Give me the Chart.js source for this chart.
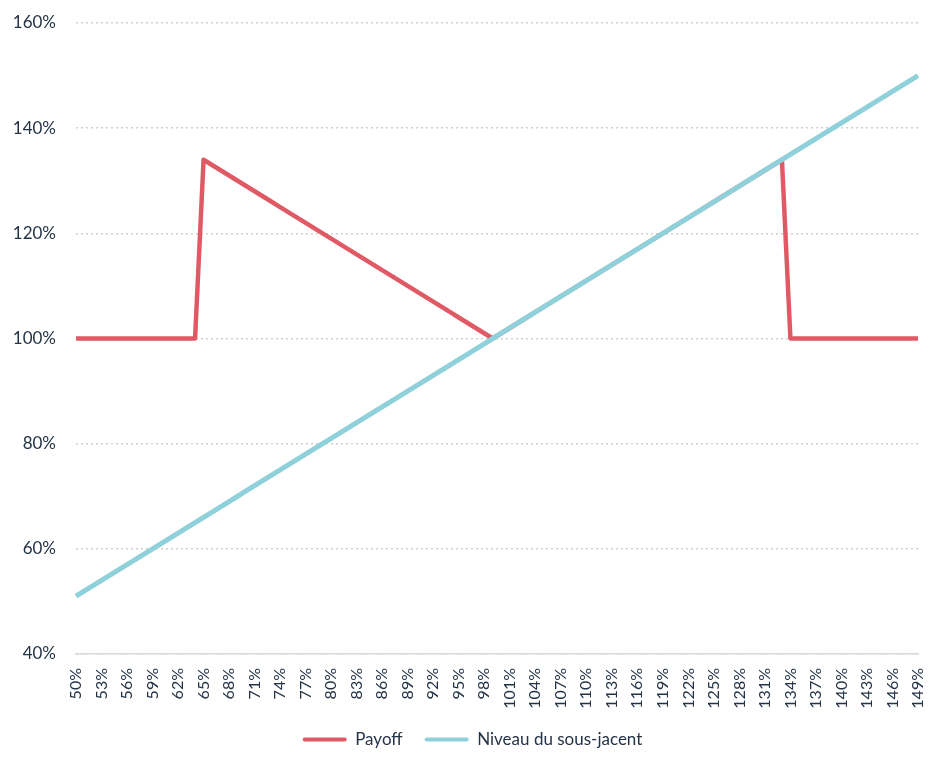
<!DOCTYPE html>
<html>
<head>
<meta charset="utf-8">
<script src="https://cdn.jsdelivr.net/npm/chart.js@4.4.1/dist/chart.umd.min.js"></script>
<style>
  html, body { margin: 0; padding: 0; background: #fff; }
  #wrap { width: 945px; height: 769px; }
</style>
</head>
<body>
<div id="wrap"><canvas id="payoffChart" width="945" height="769"></canvas></div>
<script>
// niveau du sous-jacent a maturite (axe x)
const niveaux = [
  '50%','51%','52%','53%','54%','55%','56%','57%','58%','59%',
  '60%','61%','62%','63%','64%','65%','66%','67%','68%','69%',
  '70%','71%','72%','73%','74%','75%','76%','77%','78%','79%',
  '80%','81%','82%','83%','84%','85%','86%','87%','88%','89%',
  '90%','91%','92%','93%','94%','95%','96%','97%','98%','99%',
  '100%','101%','102%','103%','104%','105%','106%','107%','108%','109%',
  '110%','111%','112%','113%','114%','115%','116%','117%','118%','119%',
  '120%','121%','122%','123%','124%','125%','126%','127%','128%','129%',
  '130%','131%','132%','133%','134%','135%','136%','137%','138%','139%',
  '140%','141%','142%','143%','144%','145%','146%','147%','148%','149%'
];

const payoff = [
  100, 100, 100, 100, 100, 100, 100, 100, 100, 100,
  100, 100, 100, 100, 100, 134, 133, 132, 131, 130,
  129, 128, 127, 126, 125, 124, 123, 122, 121, 120,
  119, 118, 117, 116, 115, 114, 113, 112, 111, 110,
  109, 108, 107, 106, 105, 104, 103, 102, 101, 100,
  101, 102, 103, 104, 105, 106, 107, 108, 109, 110,
  111, 112, 113, 114, 115, 116, 117, 118, 119, 120,
  121, 122, 123, 124, 125, 126, 127, 128, 129, 130,
  131, 132, 133, 134, 100, 100, 100, 100, 100, 100,
  100, 100, 100, 100, 100, 100, 100, 100, 100, 100
];

const sousJacent = [
   51,  52,  53,  54,  55,  56,  57,  58,  59,  60,
   61,  62,  63,  64,  65,  66,  67,  68,  69,  70,
   71,  72,  73,  74,  75,  76,  77,  78,  79,  80,
   81,  82,  83,  84,  85,  86,  87,  88,  89,  90,
   91,  92,  93,  94,  95,  96,  97,  98,  99, 100,
  101, 102, 103, 104, 105, 106, 107, 108, 109, 110,
  111, 112, 113, 114, 115, 116, 117, 118, 119, 120,
  121, 122, 123, 124, 125, 126, 127, 128, 129, 130,
  131, 132, 133, 134, 135, 136, 137, 138, 139, 140,
  141, 142, 143, 144, 145, 146, 147, 148, 149, 150
];

const textColor = '#243447';
const red = '#E05A66';
const blue = '#8FD1DA';

Chart.defaults.font.family = 'Lato, "Open Sans", sans-serif';
Chart.defaults.color = textColor;

new Chart(document.getElementById('payoffChart'), {
  type: 'line',
  data: {
    labels: niveaux,
    datasets: [
      {
        label: 'Payoff',
        data: payoff,
        borderColor: red,
        backgroundColor: red,
        borderWidth: 4.5,
        borderJoinStyle: 'round',
        pointRadius: 0,
        tension: 0,
        order: 1
      },
      {
        label: 'Niveau du sous-jacent',
        data: sousJacent,
        borderColor: blue,
        backgroundColor: blue,
        borderWidth: 5,
        borderJoinStyle: 'round',
        pointRadius: 0,
        tension: 0,
        order: 0
      }
    ]
  },
  options: {
    responsive: false,
    animation: false,
    layout: { padding: { top: 23, right: 0, left: 0, bottom: 11 } },
    plugins: {
      tooltip: { enabled: false },
      legend: {
        position: 'bottom',
        labels: {
          boxWidth: 44,
          boxHeight: 4,
          padding: 22,
          useBorderRadius: true,
          borderRadius: 2,
          font: { size: 17 },
          sort: (a, b) => a.datasetIndex - b.datasetIndex,
          generateLabels: (chart) =>
            Chart.defaults.plugins.legend.labels.generateLabels(chart)
              .map((item) => Object.assign(item, { lineWidth: 0 }))
        }
      }
    },
    scales: {
      x: {
        offset: false,
        grid: { display: false },
        border: { display: true, color: '#d9d9d9', width: 1.5 },
        ticks: {
          autoSkip: false,
          minRotation: 90,
          maxRotation: 90,
          padding: 6,
          font: { size: 16 },
          callback: function (val, i) {
            return i % 3 === 0 ? this.getLabelForValue(val) : '';
          }
        },
        afterFit: (s) => { s.height = 55; s.paddingRight = 27; }
      },
      y: {
        min: 40,
        max: 160,
        ticks: {
          stepSize: 20,
          padding: 20,
          font: { size: 17 },
          callback: (v) => v + '%'
        },
        grid: {
          color: '#d0d0d0',
          lineWidth: 1.5,
          drawTicks: false
        },
        border: { display: false, dash: [2, 3] },
        afterFit: (s) => { s.width = 76; s.paddingTop = 0; s.paddingBottom = 0; }
      }
    }
  }
});
</script>
</body>
</html>
